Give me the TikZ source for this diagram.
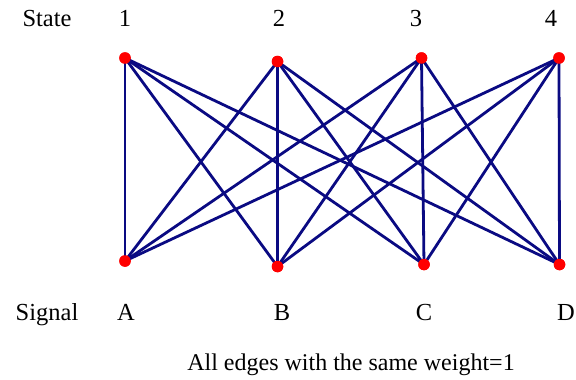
\documentclass[tikz,border=0pt]{standalone}
\usepackage{fontspec}
\setmainfont{Liberation Serif}
\begin{document}
\begin{tikzpicture}[x=1pt,y=-1pt,
  vert/.style={circle,fill=red,inner sep=0pt,minimum size=11.5pt},
  edge/.style={draw={rgb,255:red,10;green,10;blue,130},line width=2.8pt},
  lbl/.style={font=\fontsize{24.5}{28}\selectfont,inner sep=0pt,anchor=base}]
\useasboundingbox (0,0) rectangle (576,380);
\node[vert] (n1) at (125,58) {};
\node[vert] (n2) at (277.5,61.5) {};
\node[vert] (n3) at (421.5,58) {};
\node[vert] (n4) at (559,58) {};
\node[vert] (nA) at (125,261) {};
\node[vert] (nB) at (277.5,266.5) {};
\node[vert] (nC) at (424,264.5) {};
\node[vert] (nD) at (559.5,264.5) {};
\foreach \t in {n1,n2,n3,n4}{
  \foreach \b in {nA,nB,nC,nD}{
    \draw[edge] (\t.center) -- (\b.center);
  }
}
\foreach \n in {n1,n2,n3,n4,nA,nB,nC,nD}{
  \node[vert] at (\n) {};
}
\node[lbl] (tState) at (47,27) {State};
\node[lbl] (t1) at (125,27) {1};
\node[lbl] (t2) at (279,27) {2};
\node[lbl] (t3) at (416,27) {3};
\node[lbl] (t4) at (551,27) {4};
\node[lbl] (tSignal) at (47,320) {Signal};
\node[lbl] (tA) at (126,320) {A};
\node[lbl] (tB) at (282,320) {B};
\node[lbl] (tC) at (424,320) {C};
\node[lbl] (tD) at (566,320) {D};
\node[lbl,font=\fontsize{24}{28}\selectfont] (cap) at (351,370) {All edges with the same weight=1};
\end{tikzpicture}
\end{document}
